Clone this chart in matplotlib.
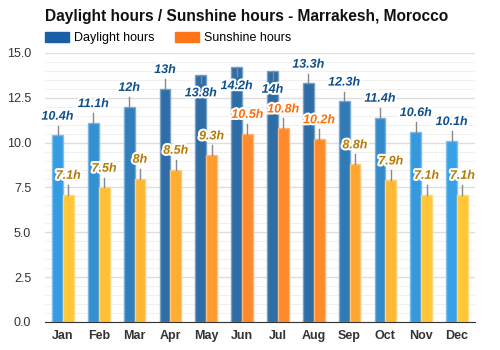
import numpy as np
import matplotlib.pyplot as plt
import matplotlib.patheffects as pe
from matplotlib.colors import to_rgb
from matplotlib.patches import Patch

plt.rcParams["font.family"] = ["Liberation Sans", "DejaVu Sans"]

months = ["Jan", "Feb", "Mar", "Apr", "May", "Jun",
          "Jul", "Aug", "Sep", "Oct", "Nov", "Dec"]
daylight = [10.4, 11.1, 12.0, 13.0, 13.8, 14.2, 14.0, 13.3, 12.3, 11.4, 10.6, 10.1]
sunshine = [7.1, 7.5, 8.0, 8.5, 9.3, 10.5, 10.8, 10.2, 8.8, 7.9, 7.1, 7.1]
day_labels = ["10.4h", "11.1h", "12h", "13h", "13.8h", "14.2h",
              "14h", "13.3h", "12.3h", "11.4h", "10.6h", "10.1h"]
sun_labels = ["7.1h", "7.5h", "8h", "8.5h", "9.3h", "10.5h",
              "10.8h", "10.2h", "8.8h", "7.9h", "7.1h", "7.1h"]


def blend(c1, c2, t):
    t = min(max(t, 0.0), 1.0)
    a, b = np.array(to_rgb(c1)), np.array(to_rgb(c2))
    return tuple(a + (b - a) * t)


def lighten(c, f=0.35):
    return blend(c, "white", f)


day_colors = [blend("#37a0e6", "#2e6da6", (v - 10.2) / 2.8) for v in daylight]
sun_colors = [blend("#ffc637", "#ff8a2b", (v - 7.2) / 3.0) for v in sunshine]

fig = plt.figure(figsize=(5, 3.5), dpi=100)
ax = fig.add_axes([0.09, 0.08, 0.86, 0.7686])

x = np.arange(len(months))
w = 0.3
ax.bar(x - w / 2, daylight, w, color=day_colors,
       edgecolor=[lighten(c) for c in day_colors], linewidth=1, zorder=3)
ax.bar(x + w / 2, sunshine, w, color=sun_colors,
       edgecolor=[lighten(c) for c in sun_colors], linewidth=1, zorder=3)

stroke = [pe.withStroke(linewidth=3, foreground="white")]
for i in range(len(months)):
    # daylight labels; the tallest ones sit inside the bar
    v = daylight[i]
    if v >= 13.8:
        y0, y1, yt = v, v - 0.5, v - 1.05
    else:
        y0, y1, yt = v, v + 0.55, v + 1.05
    ax.plot([x[i] - w / 2] * 2, [y0, y1], color="#888888", lw=1, zorder=4)
    ax.text(x[i] - w / 2, yt, day_labels[i], ha="center", va="center",
            fontsize=9, fontweight="bold", fontstyle="italic",
            color="#0e4f8e", path_effects=stroke, zorder=5)
    # sunshine labels
    s = sunshine[i]
    ax.plot([x[i] + w / 2] * 2, [s, s + 0.55], color="#888888", lw=1, zorder=4)
    ax.text(x[i] + w / 2, s + 1.05, sun_labels[i], ha="center", va="center",
            fontsize=9, fontweight="bold", fontstyle="italic",
            color="#ff6d0a" if s >= 10 else "#b57b05",
            path_effects=stroke, zorder=5)

ax.set_xlim(-0.5, len(months) - 0.5)
ax.set_ylim(0, 15)
ax.set_yticks(np.arange(0, 15.1, 2.5))
ax.set_yticks(np.arange(0, 15.1, 0.5), minor=True)
ax.yaxis.set_major_formatter(plt.FormatStrFormatter("%.1f"))
ax.set_xticks(x)
ax.set_xticklabels(months, fontweight="bold")
ax.tick_params(axis="both", length=0, labelsize=9, colors="#333333")
ax.tick_params(axis="y", which="minor", length=0)
ax.tick_params(axis="x", pad=6)
ax.tick_params(axis="y", pad=10)
ax.grid(axis="y", which="major", color="#dddddd", lw=1, zorder=0)
ax.grid(axis="y", which="minor", color="#f0f0f0", lw=0.8, zorder=0)
for side in ["top", "right", "left"]:
    ax.spines[side].set_visible(False)
ax.spines["bottom"].set_color("#333333")
ax.spines["bottom"].set_zorder(6)

fig.text(0.09, 0.952, "Daylight hours / Sunshine hours - Marrakesh, Morocco",
         fontsize=11.2, fontweight="bold", va="center", color="#111111")
fig.legend(handles=[Patch(color="#1a5fa5", label="Daylight hours"),
                    Patch(color="#ff7417", label="Sunshine hours")],
           loc="center left", bbox_to_anchor=(0.09, 0.891), ncol=2,
           frameon=False, fontsize=9, handlelength=1.9, handleheight=0.8,
           columnspacing=1.6, handletextpad=0.45, borderpad=0,
           borderaxespad=0)

fig.savefig("out.png", dpi=100, facecolor="white")
